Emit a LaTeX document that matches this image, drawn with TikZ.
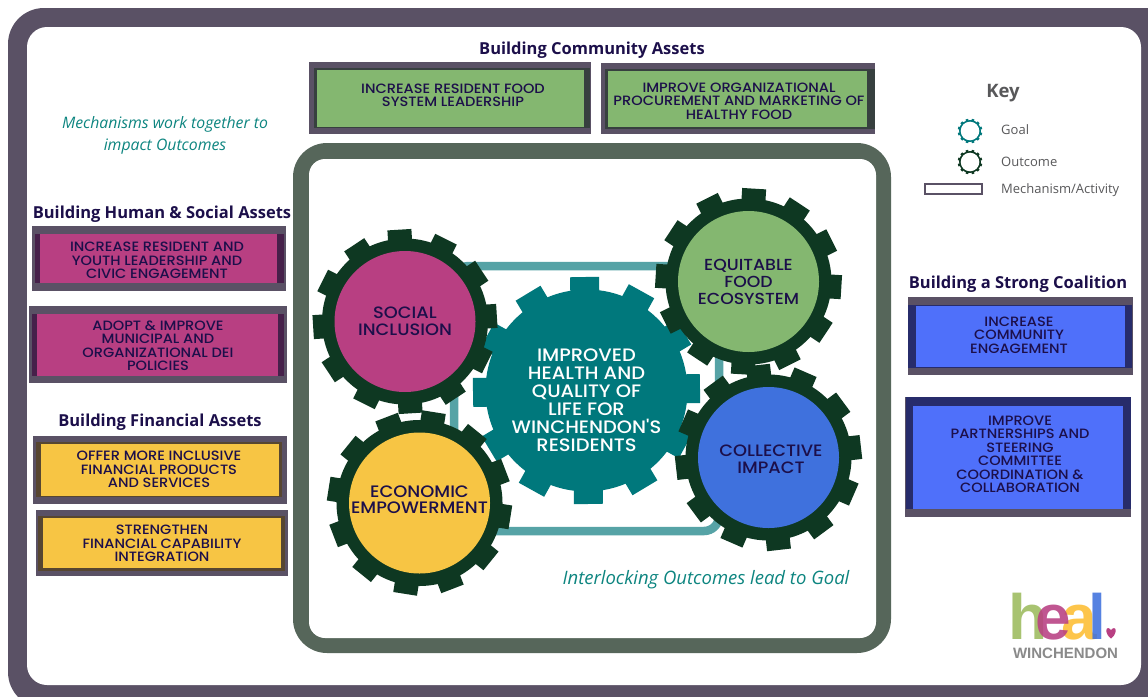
\documentclass[tikz,border=0pt]{standalone}
\usepackage{fontspec}
\setmainfont{Open Sans}
\newfontfamily\mont[FakeStretch=1.08]{Poppins Medium}
\newfontfamily\logofont{Liberation Sans Bold}
\definecolor{frameC}{HTML}{5A5165}
\definecolor{outerC}{HTML}{56665A}
\definecolor{loopC}{HTML}{56A3A6}
\definecolor{gearC}{HTML}{0E3822}
\definecolor{goalC}{HTML}{00787C}
\definecolor{inkC}{HTML}{1C0F4A}
\definecolor{pinkC}{HTML}{B83F82}
\definecolor{pinkD}{HTML}{46204A}
\definecolor{greenC}{HTML}{84B770}
\definecolor{greenD}{HTML}{37403F}
\definecolor{yellowC}{HTML}{F7C544}
\definecolor{yellowD}{HTML}{574631}
\definecolor{blueC}{HTML}{4F70FA}
\definecolor{blueD}{HTML}{272C6B}
\definecolor{blue2C}{HTML}{3F71DD}
\definecolor{tealT}{HTML}{0D8580}
\definecolor{keyC}{HTML}{58585A}
\definecolor{logoG}{HTML}{9DBB5E}
\definecolor{logoM}{HTML}{B83F82}
\definecolor{logoY}{HTML}{FDBE33}
\definecolor{logoB}{HTML}{3F71DD}
\definecolor{logoW}{HTML}{8A8A8A}
\tikzset{
  mechtext/.style={text=inkC,align=center,inner sep=0pt,font=\mont\fontsize{13.5}{13.5}\selectfont},
  geartext/.style={inner sep=0pt,align=center,text=inkC,font=\mont\fontsize{16.5}{16.8}\selectfont},
  heading/.style={text=inkC,inner sep=0pt,font=\bfseries\fontsize{16.5}{18}\selectfont},
  italictext/.style={text=tealT,inner sep=0pt,align=center,font=\itshape\fontsize{15.8}{22}\selectfont},
  keytext/.style={text=keyC,inner sep=0pt,anchor=west,font=\fontsize{13}{15}\selectfont},
  logoletter/.style={inner sep=0pt,anchor=base,text opacity=0.88,font=\logofont\fontsize{64}{64}\selectfont},
}
% #1 x, #2 y, #3 phase, #4 body radius, #5 tip radius, #6 tooth width, #7 colour
\newcommand{\gearshape}[7]{%
  \begin{scope}[shift={(#1,#2)},rotate=#3]
    \fill[#7] (0,0) circle[radius=#4pt];
    \foreach \ang in {0,30,...,330}{
      \fill[#7,rotate=\ang] (-#6/2,-#4+2) -- (-#6/2,-#5) -- (#6/2,-#5) -- (#6/2,-#4+2) -- cycle;
    }
  \end{scope}}
% #1 fill, #2 band, then outer, band, fill corners
\newcommand{\mechbox}[8]{%
  \fill[frameC] #3 rectangle #4;
  \fill[#2] #5 rectangle #6;
  \fill[#1] #7 rectangle #8;}
\begin{document}
\begin{tikzpicture}[x=1pt,y=-1pt]
\path[use as bounding box] (0,0) rectangle (1148,696);
\clip (0,0) rectangle (1148,696);
\fill[white] (0,0) rectangle (1148,696);
% page frame
\fill[frameC,rounded corners=36pt] (8,8) rectangle (1190,708);
\fill[white,rounded corners=20pt] (27,27) rectangle (1141,685);
% outcome frame
\fill[outerC,rounded corners=34pt] (293,143) rectangle (891,653);
\fill[white,rounded corners=16pt] (309,159) rectangle (876,638);
% interlocking loop
\coordinate (loopNW) at (454,266);
\coordinate (loopNE) at (719,266);
\coordinate (loopSE) at (719,531);
\coordinate (loopSW) at (454,531);
\draw[loopC,line width=8.5pt,rounded corners=15pt] (loopNW) -- (loopNE) -- (loopSE) -- (loopSW) -- cycle;
% goal gear
\gearshape{586.5}{390.5}{1}{101}{113.5}{29}{goalC}
\node[inner sep=0pt,align=center,text=white,font=\mont\fontsize{18}{18}\selectfont] (goal) at (586.5,400) {IMPROVED\\HEALTH AND\\QUALITY OF\\LIFE FOR\\WINCHENDON'S\\RESIDENTS};
% outcome gears
\gearshape{768.5}{457.5}{6.5}{83}{93}{24}{gearC}
\fill[blue2C] (768.5,457.5) circle[radius=70.5pt];
\node[geartext] (impact) at (771,459.5) {COLLECTIVE\\IMPACT};
\gearshape{748.5}{281.5}{-3.5}{83}{93}{24}{gearC}
\fill[greenC] (748.5,281.5) circle[radius=70.5pt];
\node[geartext,font=\mont\fontsize{16}{17}\selectfont] (food) at (748.5,281.5) {EQUITABLE\\FOOD\\ECOSYSTEM};
\gearshape{419.5}{503}{-9}{83}{92}{24}{gearC}
\fill[yellowC] (419.5,503) circle[radius=70.5pt];
\node[geartext,font=\mont\fontsize{16.6}{16}\selectfont] (econ) at (419.5,500) {ECONOMIC\\EMPOWERMENT};
\gearshape{405}{321.5}{3.5}{83}{92}{24}{gearC}
\fill[pinkC] (405,321.5) circle[radius=70.5pt];
\node[geartext] (social) at (405,321.5) {SOCIAL\\INCLUSION};
% headings
\node[heading] (hcomm) at (592,50) {Building Community Assets};
\node[heading] (hhuman) at (162,214) {Building Human \& Social Assets};
\node[heading] (hfin) at (160,422) {Building Financial Assets};
\node[heading] (hcoal) at (1018,284) {Building a Strong Coalition};
% community
\mechbox{greenC}{greenD}{(309,62)}{(591,134)}{(314,68)}{(590,128)}{(317,70)}{(584,127)}
\node[mechtext] (m1) at (453,95.5) {INCREASE RESIDENT FOOD\\SYSTEM LEADERSHIP};
\mechbox{greenC}{greenD}{(601,63)}{(875,134)}{(605,69)}{(875,129)}{(608,71)}{(867,127)}
\node[mechtext] (m2) at (739,101) {IMPROVE ORGANIZATIONAL\\PROCUREMENT AND MARKETING OF\\HEALTHY FOOD};
% human and social
\mechbox{pinkC}{pinkD}{(32,226)}{(286,291)}{(35,234)}{(284,283)}{(40,234)}{(277,283)}
\node[mechtext] (m3) at (157,260.5) {INCREASE RESIDENT AND\\YOUTH LEADERSHIP AND\\CIVIC ENGAGEMENT};
\mechbox{pinkC}{pinkD}{(29,306)}{(287,383)}{(32,314)}{(284,376)}{(37,314)}{(278,376)}
\node[mechtext] (m4) at (158,345.5) {ADOPT \& IMPROVE\\MUNICIPAL AND\\ORGANIZATIONAL DEI\\POLICIES};
% financial
\mechbox{yellowC}{yellowD}{(33,436)}{(287,504)}{(36,442)}{(282,497)}{(41,444)}{(279,496)}
\node[mechtext] (m5) at (159,469.5) {OFFER MORE INCLUSIVE\\FINANCIAL PRODUCTS\\AND SERVICES};
\mechbox{yellowC}{yellowD}{(36,510)}{(288,576)}{(38,516)}{(285,571)}{(43,518)}{(281,568)}
\node[mechtext] (m6) at (162,543.5) {STRENGTHEN\\FINANCIAL CAPABILITY\\INTEGRATION};
% coalition
\mechbox{blueC}{blueD}{(908,297)}{(1133,375)}{(908,305)}{(1132,368)}{(916,305.5)}{(1125,367)}
\node[mechtext] (m7) at (1019,335) {INCREASE\\COMMUNITY\\ENGAGEMENT};
\mechbox{blueC}{blueD}{(905,397)}{(1131,517)}{(906,397)}{(1131,509)}{(913,406)}{(1123,509)}
\node[mechtext] (m8) at (1020,454.5) {IMPROVE\\PARTNERSHIPS AND\\STEERING\\COMMITTEE\\COORDINATION \&\\COLLABORATION};
% captions
\node[italictext] (mechcap) at (165,135) {Mechanisms work together to\\impact Outcomes};
\node[italictext,font=\itshape\fontsize{18.5}{22}\selectfont] (intcap) at (706,580) {Interlocking Outcomes lead to Goal};
% key
\node[inner sep=0pt,text=keyC,font=\bfseries\fontsize{18.5}{20}\selectfont] (keyt) at (1003,93) {Key};
\gearshape{970}{131}{15}{11}{12.3}{2.6}{goalC}
\node[circle,fill=white,minimum size=18.6pt,inner sep=0pt] (keygoal) at (970,131) {};
\gearshape{970}{162}{15}{11}{12.3}{2.6}{gearC}
\node[circle,fill=white,minimum size=18.6pt,inner sep=0pt] (keyout) at (970,162) {};
\node[draw=frameC,line width=2pt,fill=white,minimum width=57pt,minimum height=10.5pt,inner sep=0pt] (keymech) at (953,189) {};
\node[keytext] (l1) at (1001,130) {Goal};
\node[keytext] (l2) at (1001,162) {Outcome};
\node[keytext] (l3) at (1001,190) {Mechanism/Activity};
% logo
\node[logoletter,text=logoG] (lh) at (1028.5,639) {h};
\node[logoletter,text=logoY] (la) at (1079.5,639) {a};
\node[logoletter,text=logoM] (le) at (1053,639) {e};
\node[logoletter,text=logoB] (ll) at (1097.5,639) {l};
\fill[logoM] (1111,638.5) .. controls (1105,634) and (1105.5,628) .. (1108,628) .. controls (1110,628) and (1111,630) .. (1111,630.5) .. controls (1111,630) and (1112,628) .. (1114,628) .. controls (1116.5,628) and (1117,634) .. (1111,638.5) -- cycle;
\node[inner sep=0pt,text=logoW,font=\logofont\fontsize{15}{15}\selectfont] (lw) at (1065.5,653) {WINCHENDON};
\end{tikzpicture}
\end{document}
